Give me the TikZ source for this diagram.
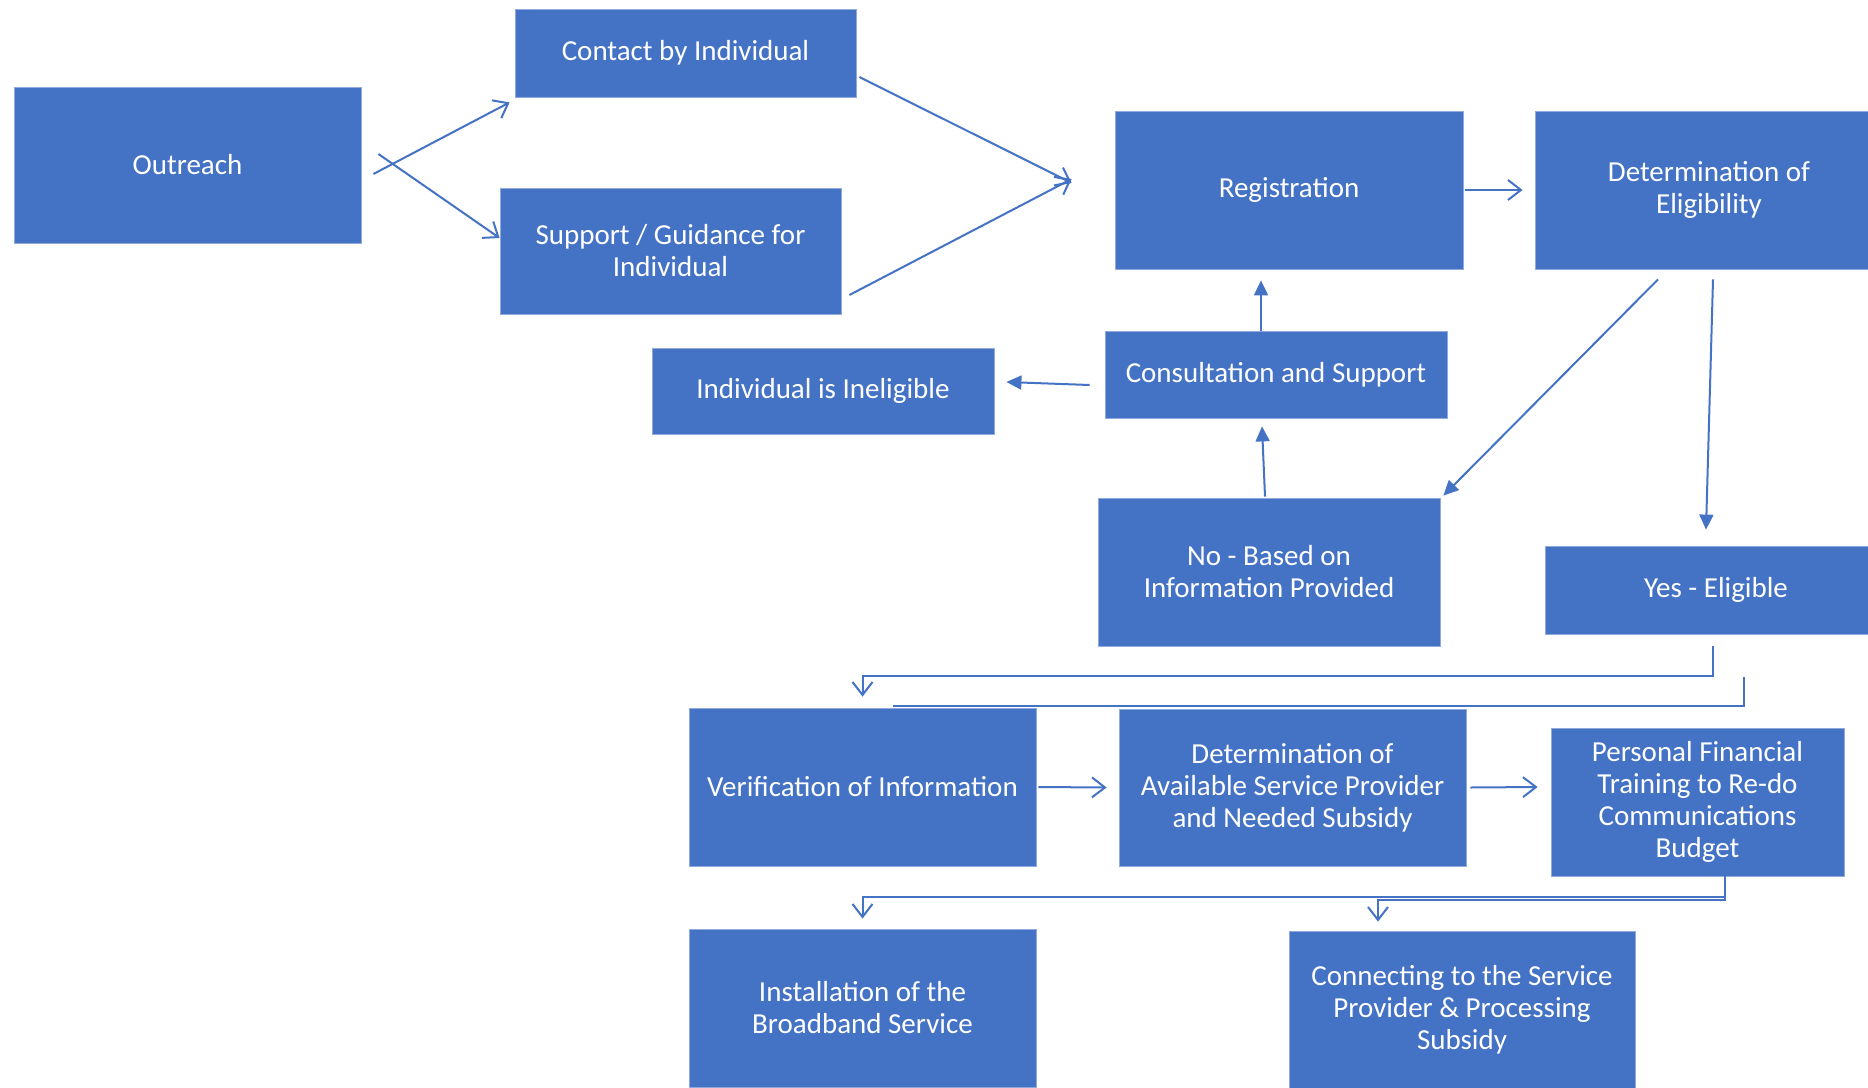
\documentclass[tikz,border=0pt]{standalone}
\usepackage{fontspec}
\setmainfont{Carlito}
\usetikzlibrary{arrows.meta}
\definecolor{boxblue}{HTML}{4472C4}
\definecolor{boxedge}{HTML}{8FAADC}
\tikzset{
  stepbox/.style={rectangle, fill=boxblue, draw=boxedge, line width=0.8pt, inner sep=0pt,
    text=white, align=center, font=\fontsize{29}{32}\selectfont},
  conn/.style={draw=boxblue, line width=2pt},
  openarrow/.style={conn, -{Straight Barb[length=13pt,width=20pt,line width=2pt]}},
  fillarrow/.style={conn, -{Triangle[length=15pt,width=14pt]}}
}
\begin{document}
\begin{tikzpicture}[x=1pt,y=-1pt]
\useasboundingbox (0,0) rectangle (1868,1087);
\fill[white] (0,0) rectangle (1868,1087);
\clip (0,0) rectangle (1868,1087);

\node[stepbox, minimum width=347pt, minimum height=156pt] (outreach) at (187.5,165) {Outreach};
\node[stepbox, minimum width=341pt, minimum height=88pt] (contact) at (685.5,53) {Contact by Individual};
\node[stepbox, minimum width=341pt, minimum height=126pt] (support) at (670.5,251) {Support / Guidance for\\Individual};
\node[stepbox, minimum width=348pt, minimum height=158pt] (reg) at (1289,190) {Registration};
\node[stepbox, minimum width=348pt, minimum height=158pt] (det) at (1709,190) {Determination of\\Eligibility};
\node[stepbox, minimum width=342pt, minimum height=87pt] (consult) at (1276,374.5) {Consultation and Support};
\node[stepbox, minimum width=342pt, minimum height=86pt] (inelig) at (823,391) {Individual is Ineligible};
\node[stepbox, minimum width=342pt, minimum height=148pt] (no) at (1269,572) {No - Based on\\Information Provided};
\node[stepbox, minimum width=342pt, minimum height=88pt] (yes) at (1716,590) {Yes - Eligible};
\node[stepbox, minimum width=347pt, minimum height=158pt] (verif) at (862.5,787) {Verification of Information};
\node[stepbox, minimum width=347pt, minimum height=157pt] (detav) at (1292.5,787.5) {Determination of\\Available Service Provider\\and Needed Subsidy};
\node[stepbox, minimum width=293pt, minimum height=148pt] (personal) at (1697.5,802) {Personal Financial\\Training to Re-do\\Communications\\Budget};
\node[stepbox, minimum width=347pt, minimum height=158pt] (install) at (862.5,1008) {Installation of the\\Broadband Service};
\node[stepbox, minimum width=346pt, minimum height=158pt] (connect) at (1462,1010) {Connecting to the Service\\Provider \& Processing\\Subsidy};

% top-left fan
\draw[openarrow] ([shift={(12,9)}]outreach.east) -- ([shift={(-5,5)}]contact.south west);
\draw[openarrow] ([shift={(17,-11)}]outreach.east) -- ([shift={(0,-13)}]support.west);
\draw[openarrow] ([shift={(3,24)}]contact.east) -- ([shift={(-43,-7)}]reg.west);
\draw[openarrow] ([shift={(8,44)}]support.east) -- ([shift={(-43,-11)}]reg.west);
\draw[openarrow] ([xshift=2]reg.east) -- ([xshift=-12]det.west);

% consultation loop
\draw[fillarrow] ([xshift=-15]consult.north) -- ([shift={(-28,11)}]reg.south);
\draw[fillarrow] ([shift={(-4,-1)}]no.north) -- ([shift={(-14,8)}]consult.south);
\draw[fillarrow] ([shift={(-15,10.5)}]consult.west) -- ([shift={(12,-9)}]inelig.east);
\draw[fillarrow] ([shift={(-51,10)}]det.south) -- ([shift={(3,-2)}]no.north east);
\draw[fillarrow] ([shift={(4,10)}]det.south) -- ([shift={(-10,-16)}]yes.north);

% eligible to verification
\draw[openarrow] ([shift={(-3,12)}]yes.south) -- ++(0,30) -| ([shift={(0,-11)}]verif.north);
\coordinate (lineA) at ([shift={(28,43)}]yes.south);
\coordinate (lineB) at ([shift={(30.5,-2)}]verif.north);
\draw[conn] (lineA) |- (lineB);

% middle row
\draw[openarrow] ([xshift=2]verif.east) -- ([xshift=-12]detav.west);
\draw[openarrow] ([xshift=4]detav.east) -- ([shift={(-13,-15)}]personal.west);

% bottom row
\draw[openarrow] ([xshift=27.5]personal.south) -- ++(0,21) -| ([shift={(0,-10)}]install.north);
\draw[openarrow] ([xshift=27.5]personal.south) -- ++(0,24) -| ([shift={(-84,-9)}]connect.north);
\end{tikzpicture}
\end{document}
